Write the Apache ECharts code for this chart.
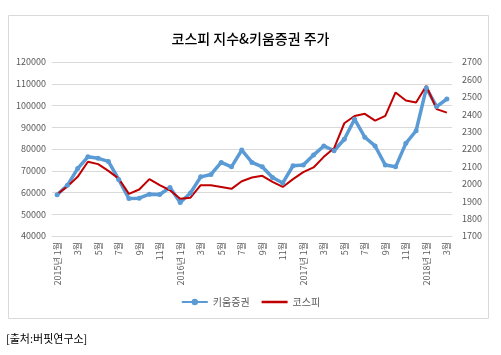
<!DOCTYPE html>
<html><head><meta charset="utf-8">
<script src="https://cdn.jsdelivr.net/npm/echarts@6/dist/echarts.min.js"></script>
<style>html,body{margin:0;padding:0;background:#fff}#c{width:501px;height:355px}</style>
</head><body><div id="c"></div>
<script>
var months = ["2015년 1월","2월","3월","4월","5월","6월","7월","8월","9월","10월","11월","12월",
"2016년 1월","2월","3월","4월","5월","6월","7월","8월","9월","10월","11월","12월",
"2017년 1월","2월","3월","4월","5월","6월","7월","8월","9월","10월","11월","12월",
"2018년 1월","2월","3월"];
var kiwoom = [59000,63300,71000,76400,75700,74300,66000,57200,57400,59200,59100,62300,
55400,59800,67200,68300,73800,71800,79500,73800,71800,66900,64400,72300,
72600,77200,81400,79200,84500,93700,85400,81400,72600,71800,82600,88400,
108000,99500,103000];
var kospi = [1940,1985,2040,2127,2113,2074,2030,1942,1967,2027,1992,1963,
1914,1920,1992,1992,1982,1971,2015,2036,2046,2011,1982,2027,
2067,2094,2155,2204,2348,2390,2402,2363,2390,2525,2479,2467,
2563,2429,2409];
var title = "코스피 지수&키움증권 주가";
var source = "[출처:버핏연구소]";
var FONT = "'Noto Sans CJK KR', 'Noto Sans', sans-serif";
var chart = echarts.init(document.getElementById('c'));
chart.setOption({
  animation: false,
  textStyle: {fontFamily: FONT},
  title: {text: title, left: 'center', top: 27,
    textStyle: {fontSize: 14, fontWeight: 500, color: '#000', fontFamily: FONT}},
  grid: {left: 52, right: 49, top: 62, bottom: 119},
  legend: {bottom: 43, left: 'center', itemWidth: 26, itemHeight: 8, itemGap: 12,
    textStyle: {fontSize: 10, color: '#595959', fontFamily: FONT},
    data: [{name: '키움증권'},
           {name: '코스피', icon: 'path://M0,0 L26,0 L26,2.5 L0,2.5 Z'}]},
  xAxis: {type: 'category', data: months, boundaryGap: true,
    axisLine: {lineStyle: {color: '#d9d9d9'}}, axisTick: {show: false},
    axisLabel: {interval: 1, rotate: 90, fontSize: 9, color: '#595959', margin: 6, fontFamily: FONT}},
  yAxis: [
    {type: 'value', min: 40000, max: 120000, interval: 10000,
     axisLine: {show: false}, axisTick: {show: false},
     splitLine: {lineStyle: {color: '#d9d9d9'}},
     axisLabel: {fontSize: 9, color: '#595959', margin: 6, fontFamily: FONT,
       formatter: function (v) { return String(v); }}},
    {type: 'value', min: 1700, max: 2700, interval: 100,
     axisLine: {show: false}, axisTick: {show: false}, splitLine: {show: false},
     axisLabel: {fontSize: 9, color: '#595959', margin: 10, fontFamily: FONT,
       formatter: function (v) { return String(v); }}}
  ],
  series: [
    {name: '키움증권', type: 'line', yAxisIndex: 0, data: kiwoom,
     symbol: 'circle', symbolSize: 5, showSymbol: true,
     lineStyle: {color: '#5b9bd5', width: 3.5}, itemStyle: {color: '#5b9bd5'}},
    {name: '코스피', type: 'line', yAxisIndex: 1, data: kospi,
     symbol: 'none', lineStyle: {color: '#c00000', width: 2}, itemStyle: {color: '#c00000'}, z: 3}
  ],
  graphic: [
    {type: 'rect', shape: {x: 8.5, y: 15.5, width: 480, height: 303},
     style: {fill: null, stroke: '#d9d9d9', lineWidth: 1}, silent: true},
    {type: 'text', left: 6, top: 333,
     style: {text: source, font: "11px " + FONT, fill: '#000'}}
  ]
});
</script></body></html>
